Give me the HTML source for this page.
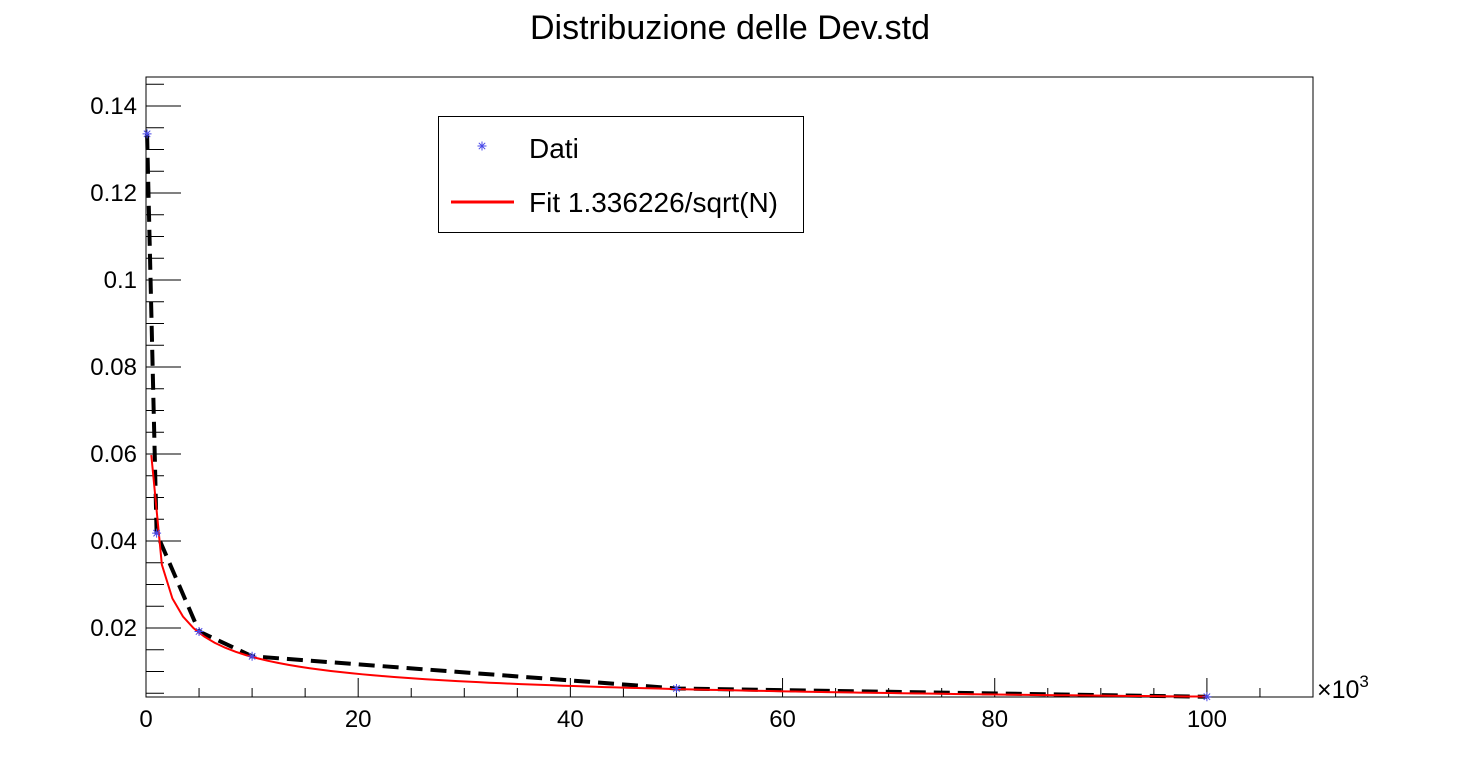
<!DOCTYPE html>
<html><head><meta charset="utf-8"><style>
html,body{margin:0;padding:0;background:#fff;}
svg{display:block;font-family:"Liberation Sans",sans-serif;}
</style></head><body>
<svg id="chart" width="1460" height="776">
<rect x="0" y="0" width="1460" height="776" fill="#fff"/>
<text x="730" y="39" font-size="34" text-anchor="middle" fill="#000">Distribuzione delle Dev.std</text>
<rect x="146" y="77" width="1167" height="620" fill="none" stroke="#000" stroke-width="1"/>
<g id="axes"></g>
<g id="marks"></g>
<text x="1317" y="698" font-size="25" fill="#000">×10<tspan dy="-11" font-size="17">3</tspan></text>
<g>
<rect x="438.5" y="116.5" width="365" height="116" fill="#fff" stroke="#000" stroke-width="1"/>
<g id="legend-star"></g>
<text x="529" y="158" font-size="28" fill="#000">Dati</text>
<line x1="451" y1="202" x2="514" y2="202" stroke="#f00" stroke-width="3"/>
<text x="529" y="212" font-size="28" fill="#000">Fit 1.336226/sqrt(N)</text>
</g>
</svg>
<script>
const dataN = [0.1, 1, 5, 10, 50, 100];           // x in thousands
const dataSigma = [0.1336, 0.0418, 0.0192, 0.0135, 0.0061, 0.0042];
const fitCoef = 1.336226;
const fitRange = [0.5, 100];
const xTicks = [0, 20, 40, 60, 80, 100];
const yTicks = [0.02, 0.04, 0.06, 0.08, 0.1, 0.12, 0.14];
const yTickLabels = ["0.02","0.04","0.06","0.08","0.1","0.12","0.14"];

const X0=146, X1=1313, Y0=697, Y1=77;
const xMin=0, xMax=110, yMin=0.00414, yMax=0.14667;
const sx = v => X0 + (v - xMin) / (xMax - xMin) * (X1 - X0);
const sy = v => Y0 - (v - yMin) / (yMax - yMin) * (Y0 - Y1);
const NS = "http://www.w3.org/2000/svg";
const axes = document.getElementById('axes');
const marks = document.getElementById('marks');
function mk(tag, attrs, parent){const e=document.createElementNS(NS,tag);for(const k in attrs)e.setAttribute(k,attrs[k]);parent.appendChild(e);return e;}
function star(cx, cy, parent){
  const r=4.5, d=3.2;
  const p=`M${cx-r},${cy}L${cx+r},${cy}M${cx},${cy-r}L${cx},${cy+r}M${cx-d},${cy-d}L${cx+d},${cy+d}M${cx-d},${cy+d}L${cx+d},${cy-d}`;
  return mk('path',{d:p,stroke:'#4848e8','stroke-width':1,fill:'none'},parent);
}

// x ticks
for (let v = 0; v <= 110; v += 5) {
  const major = v % 20 === 0;
  const t = mk('line',{x1:sx(v),x2:sx(v),y1:Y0,y2:Y0-(major?19:9),stroke:'#000','stroke-width':1},axes);
  
  
}
xTicks.forEach(v=>{
  const t = mk('text',{x:sx(v),y:727,'font-size':24,'text-anchor':'middle',fill:'#000'},axes);
  t.textContent = String(v);
  
  
});
// y ticks
for (let i = 1; i <= 29; i++) {
  const v = i * 0.005;
  if (v < yMin || v > yMax) continue;
  const major = i % 4 === 0;
  const t = mk('line',{x1:X0,x2:X0+(major?35:18),y1:sy(v),y2:sy(v),stroke:'#000','stroke-width':1},axes);
  
  
}
yTicks.forEach((v,i)=>{
  const t = mk('text',{x:137,y:sy(v)+8,'font-size':24,'text-anchor':'end',fill:'#000'},axes);
  t.textContent = yTickLabels[i];
  
  
});

// dashed curve through data
const pts = dataN.map((v,i)=>sx(v).toFixed(2)+','+sy(dataSigma[i]).toFixed(2));
const dl = mk('polyline',{points:pts.join(' '),fill:'none',stroke:'#000','stroke-width':4,'stroke-dasharray':'16,8','stroke-linejoin':'round'},marks);



// fit curve (linear sampling like ROOT TF1)
let fp = [];
for (let i = 0; i <= 100; i++) {
  const x = fitRange[0] + (fitRange[1]-fitRange[0]) * i/100;
  fp.push(sx(x).toFixed(2)+','+sy(fitCoef/Math.sqrt(x*1000)).toFixed(2));
}
const fl = mk('polyline',{points:fp.join(' '),fill:'none',stroke:'#f00','stroke-width':2},marks);



// data markers
dataN.forEach((v,i)=>{
  const t = star(sx(v), sy(dataSigma[i]), marks);
  
  
});
const ls = star(482, 146, document.getElementById('legend-star'));


</script>
</body></html>
